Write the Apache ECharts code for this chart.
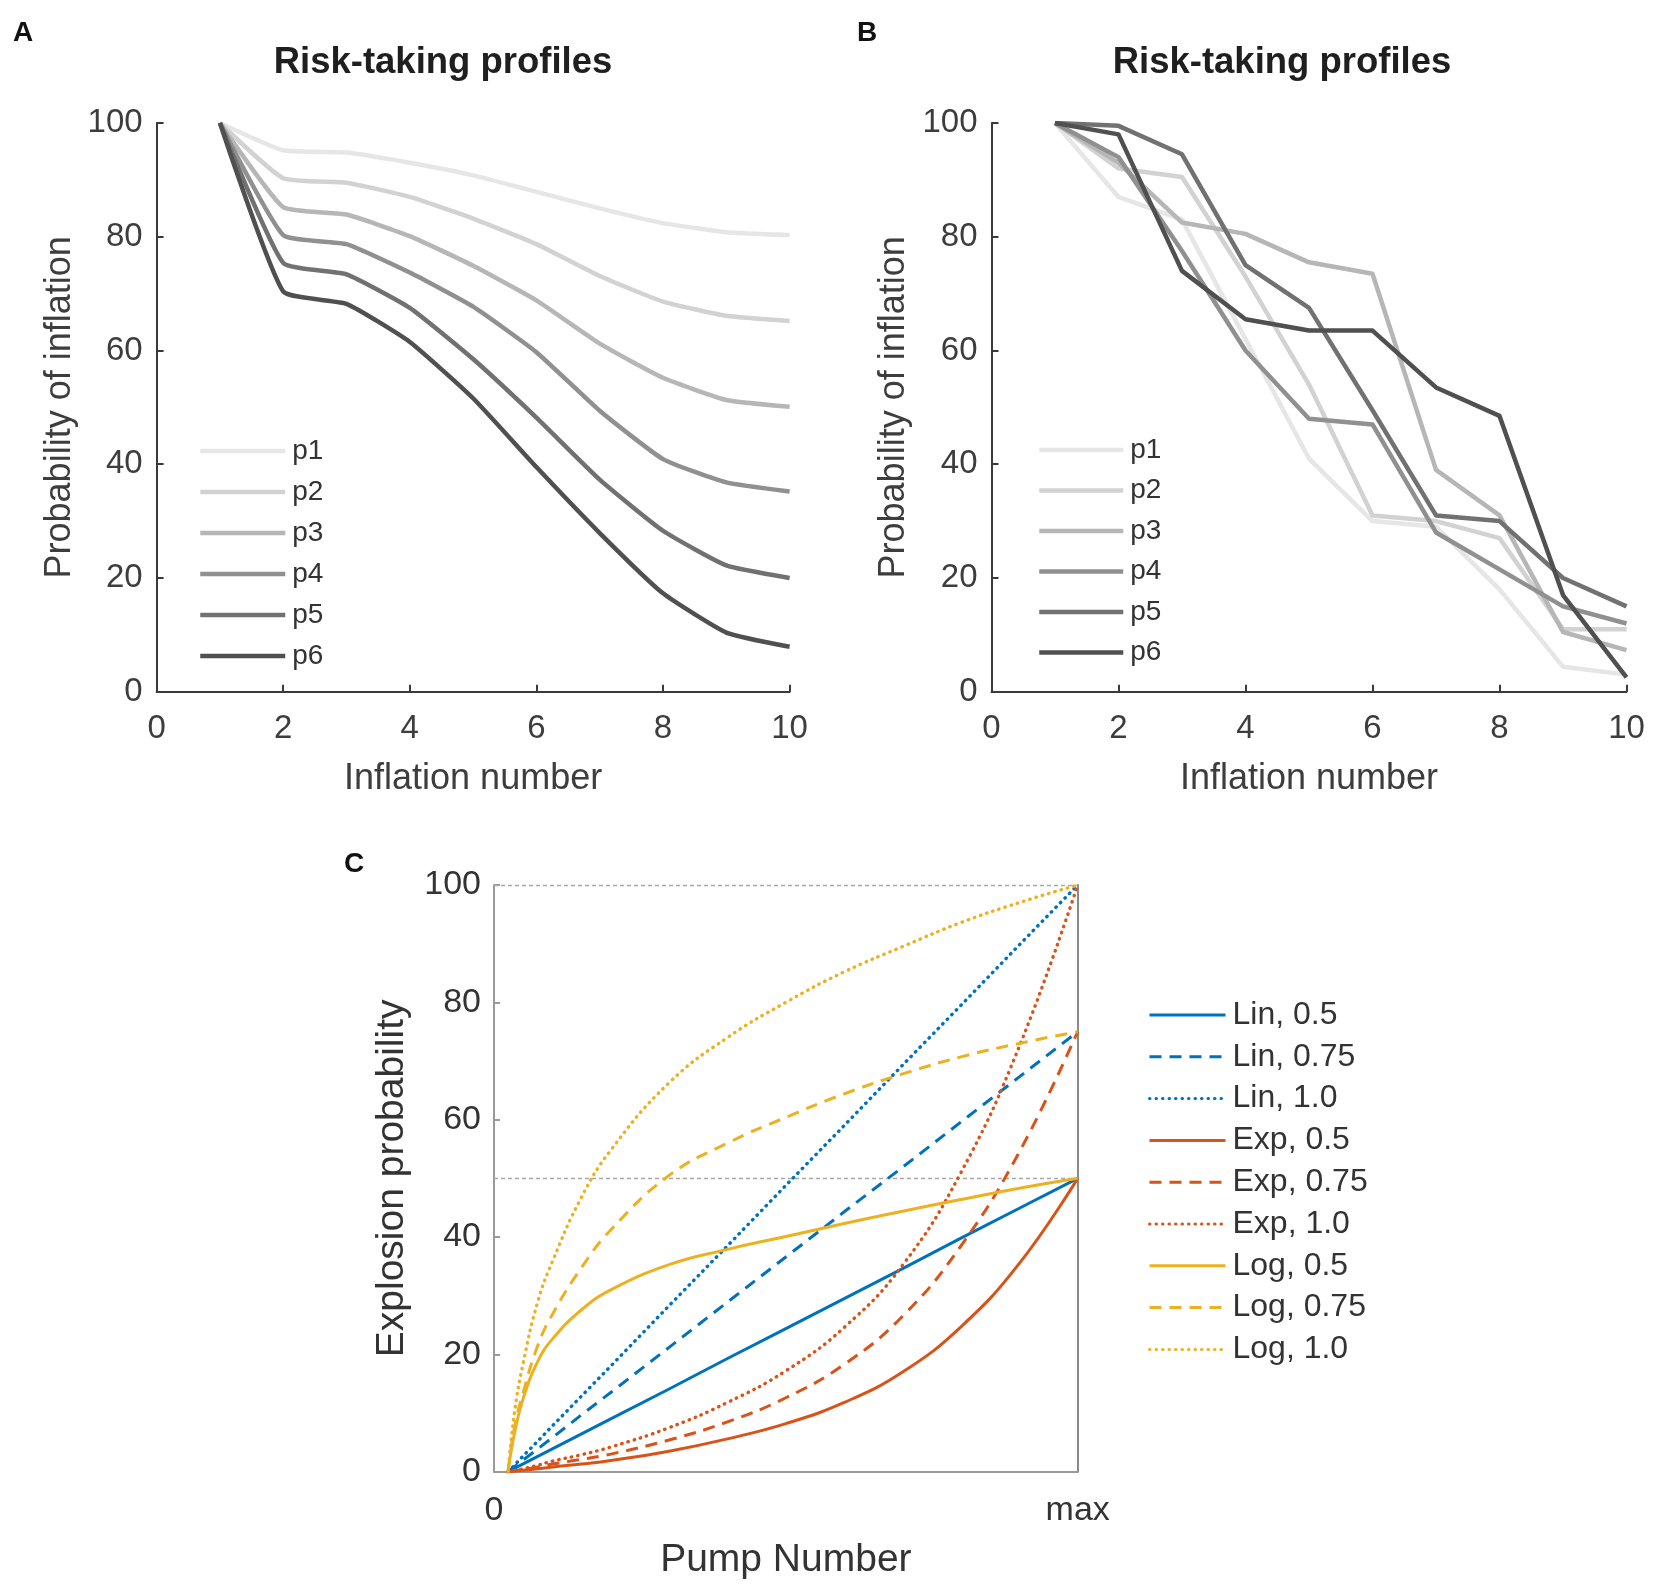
<!DOCTYPE html>
<html><head><meta charset="utf-8">
<script src="https://cdn.jsdelivr.net/npm/echarts@6/dist/echarts.min.js"></script>
<style>html,body{margin:0;padding:0;background:#fff}#c{width:1654px;height:1587px}</style>
</head><body><div id="c"></div>
<script>
// ---------- data ----------
const inflationNumbers = [1, 2, 3, 4, 5, 6, 7, 8, 9, 10];
const profileNames = ['p1', 'p2', 'p3', 'p4', 'p5', 'p6'];

// Panel A: smooth risk-taking profiles
const panelA_p1 = [100, 95.2, 94.8, 93, 90.8, 87.9, 85, 82.4, 80.8, 80.3];
const panelA_p2 = [100, 90.3, 89.5, 87, 83.2, 78.7, 73.1, 68.6, 66.1, 65.2];
const panelA_p3 = [100, 85.2, 83.9, 80.1, 74.9, 68.8, 61.2, 55.2, 51.3, 50.1];
const panelA_p4 = [100, 80.3, 78.7, 73.7, 67.7, 59.7, 49.4, 40.9, 36.8, 35.2];
const panelA_p5 = [100, 75.4, 73.4, 67.5, 58.5, 48.2, 37.3, 28.3, 22.2, 20];
const panelA_p6 = [100, 70.4, 68.2, 61.5, 51.6, 39.5, 27.9, 17.3, 10.4, 7.9];

// Panel B: irregular risk-taking profiles
const panelB_p1 = [100, 87, 83, 62, 41, 30, 29, 18, 4.4, 3];
const panelB_p2 = [100, 92, 90.5, 73, 54, 31, 30, 27, 11, 11];
const panelB_p3 = [100, 93, 82.5, 80.5, 75.5, 73.5, 39, 31, 10.5, 7.3];
const panelB_p4 = [100, 94, 77.5, 60, 48, 47, 28, 21.5, 15, 12];
const panelB_p5 = [100, 99.5, 94.5, 75, 67.5, 49.5, 31, 30, 20, 15];
const panelB_p6 = [100, 98, 74, 65.5, 63.5, 63.5, 53.5, 48.5, 17, 2.5];

// Panel C: explosion probability vs pump number (x as fraction of max)
const pumpFraction = [0.024, 0.035, 0.05, 0.075, 0.1, 0.15, 0.2, 0.3, 0.4, 0.5, 0.6, 0.7, 0.8, 0.9, 1.0];
const lin05 = [0, 0.56, 1.33, 2.61, 3.89, 6.45, 9.0, 14.1, 19.3, 24.4, 29.5, 34.6, 39.8, 44.9, 50];
const lin075 = [0, 0.85, 2.0, 3.9, 5.8, 9.7, 13.5, 21.2, 28.9, 36.6, 44.3, 51.9, 59.6, 67.3, 75];
const lin10 = [0, 1.1, 2.7, 5.2, 7.8, 12.9, 18, 28.3, 38.5, 48.8, 59, 69.3, 79.5, 89.8, 100];
const exp05 = [0, 0.1, 0.25, 0.5, 0.8, 1.3, 1.9, 3.5, 5.6, 8.2, 11.8, 17, 24.7, 35.5, 50];
const exp075 = [0, 0.15, 0.4, 0.8, 1.3, 2.1, 3.0, 5.4, 8.5, 12.6, 18.3, 26.5, 38.5, 54.5, 75];
const exp10 = [0, 0.2, 0.5, 1.1, 1.8, 2.9, 4.2, 7.5, 11.8, 17.2, 24.6, 35.2, 51, 72.5, 100];
const log05 = [0, 6.5, 12.5, 18.8, 22.6, 27.6, 31, 35.3, 37.9, 40.1, 42.3, 44.4, 46.4, 48.3, 50];
const log075 = [0, 7.5, 13.5, 21.5, 26.8, 34.8, 41.2, 50.5, 56, 60.4, 64.4, 67.8, 70.7, 73, 75];
const log10 = [0, 10, 18.5, 29, 35.8, 46.8, 54.8, 66.3, 74, 80, 85.2, 89.5, 93.6, 97, 100];
const curveNamesC = ['Lin, 0.5', 'Lin, 0.75', 'Lin, 1.0', 'Exp, 0.5', 'Exp, 0.75', 'Exp, 1.0', 'Log, 0.5', 'Log, 0.75', 'Log, 1.0'];
const pumpTickLabels = ['0', 'max'];
const referenceLinesC = [50, 100];
const panelTitles = ['Risk-taking profiles', 'Risk-taking profiles'];
const panelLetters = ['A', 'B', 'C'];

// ---------- styling ----------
const font = '"Liberation Sans", Arial, Helvetica, sans-serif';
const grayShades = ['#e6e6e6', '#d2d2d2', '#b6b6b6', '#909090', '#717171', '#505050'];
const blue = '#0072BD', red = '#D95319', yellow = '#EDB120';
const dashed = [12, 8], dotted = [0.5, 6];
const axisColAB = '#3a3a3a', textColAB = '#3d3d3d';

function pairs(xs, ys) { return xs.map((x, i) => [x, ys[i]]); }

function xAxisAB(g) {
  return {
    gridIndex: g, type: 'value', min: 0, max: 10, interval: 2,
    name: 'Inflation number', nameLocation: 'middle', nameGap: 69,
    nameTextStyle: { fontSize: 36, color: textColAB, fontFamily: font },
    axisLine: { show: true, onZero: false, lineStyle: { color: axisColAB, width: 2 } },
    axisTick: { show: true, inside: true, length: 7, lineStyle: { color: axisColAB, width: 2 } },
    axisLabel: { fontSize: 33, color: textColAB, margin: 21, fontFamily: font },
    splitLine: { show: false }
  };
}
function yAxisAB(g) {
  return {
    gridIndex: g, type: 'value', min: 0, max: 100, interval: 20,
    name: 'Probability of inflation', nameLocation: 'middle', nameGap: 79,
    nameTextStyle: { fontSize: 36, color: textColAB, fontFamily: font },
    axisLine: { show: true, onZero: false, lineStyle: { color: axisColAB, width: 2 } },
    axisTick: { show: true, inside: true, length: 7, lineStyle: { color: axisColAB, width: 2 } },
    axisLabel: { fontSize: 33, color: textColAB, margin: 14, fontFamily: font },
    splitLine: { show: false }
  };
}

const dataA = [panelA_p1, panelA_p2, panelA_p3, panelA_p4, panelA_p5, panelA_p6];
const dataB = [panelB_p1, panelB_p2, panelB_p3, panelB_p4, panelB_p5, panelB_p6];

const series = [];
dataA.forEach((d, i) => series.push({
  name: profileNames[i], type: 'line', xAxisIndex: 0, yAxisIndex: 0,
  data: pairs(inflationNumbers, d), symbol: 'none', smooth: 0.15,
  lineStyle: { color: grayShades[i], width: 4.5, join: 'round' }, itemStyle: { color: grayShades[i] }, z: 2 + i
}));
dataB.forEach((d, i) => series.push({
  name: profileNames[i], type: 'line', xAxisIndex: 1, yAxisIndex: 1,
  data: pairs(inflationNumbers, d), symbol: 'none', smooth: false,
  lineStyle: { color: grayShades[i], width: 4.5, join: 'round' }, itemStyle: { color: grayShades[i] }, z: 2 + i
}));

const dataC = [lin05, lin075, lin10, exp05, exp075, exp10, log05, log075, log10];
const colorsC = [blue, blue, blue, red, red, red, yellow, yellow, yellow];
const typesC = ['solid', dashed, dotted, 'solid', dashed, dotted, 'solid', dashed, dotted];
dataC.forEach((d, i) => {
  const s = {
    name: curveNamesC[i], type: 'line', xAxisIndex: 2, yAxisIndex: 2,
    data: pairs(pumpFraction, d), symbol: 'none', smooth: i < 3 ? false : 0.45,
    lineStyle: { color: colorsC[i], width: typesC[i] === dotted ? 3.4 : 3, type: typesC[i],
      cap: typesC[i] === dotted ? 'round' : 'butt', join: 'round' },
    itemStyle: { color: colorsC[i] }, z: 5
  };
  if (i === 0) {
    s.markLine = {
      silent: true, symbol: 'none', animation: false,
      label: { show: false },
      lineStyle: { color: '#a8a8a8', type: [4, 3], width: 1.3 },
      data: referenceLinesC.map(v => ({ yAxis: v })), z: 1
    };
  }
  series.push(s);
});

const option = {
  backgroundColor: '#ffffff',
  animation: false,
  title: [
    { text: panelTitles[0], left: 443, top: 44, textAlign: 'center', padding: 0,
      textStyle: { fontSize: 36.5, fontWeight: 'bold', color: '#1f1f1f', fontFamily: font } },
    { text: panelTitles[1], left: 1282, top: 44, textAlign: 'center', padding: 0,
      textStyle: { fontSize: 36.5, fontWeight: 'bold', color: '#1f1f1f', fontFamily: font } },
    { text: panelLetters[0], left: 13, top: 19, padding: 0,
      textStyle: { fontSize: 28, fontWeight: 'bold', color: '#111', fontFamily: font } },
    { text: panelLetters[1], left: 857, top: 19, padding: 0,
      textStyle: { fontSize: 28, fontWeight: 'bold', color: '#111', fontFamily: font } },
    { text: panelLetters[2], left: 344, top: 850, padding: 0,
      textStyle: { fontSize: 28, fontWeight: 'bold', color: '#111', fontFamily: font } }
  ],
  grid: [
    { left: 156.6, top: 123, width: 633, height: 568.7, containLabel: false },
    { left: 991.5, top: 123, width: 635, height: 568.7, containLabel: false },
    { left: 494, top: 885, width: 583.7, height: 586.7, containLabel: false }
  ],
  xAxis: [
    xAxisAB(0), xAxisAB(1),
    {
      gridIndex: 2, type: 'value', min: 0, max: 1, interval: 1,
      name: 'Pump Number', nameLocation: 'middle', nameGap: 69,
      nameTextStyle: { fontSize: 39, color: '#333', fontFamily: font },
      axisLine: { show: true, onZero: false, lineStyle: { color: '#9a9a9a', width: 2 } },
      axisTick: { show: false },
      axisLabel: { fontSize: 34, color: '#333', margin: 22, fontFamily: font,
        formatter: v => pumpTickLabels[Math.round(v)] },
      splitLine: { show: false }
    }
  ],
  yAxis: [
    yAxisAB(0), yAxisAB(1),
    {
      gridIndex: 2, type: 'value', min: 0, max: 100, interval: 20,
      name: 'Explosion probability', nameLocation: 'middle', nameGap: 82,
      nameTextStyle: { fontSize: 39, color: '#333', fontFamily: font },
      axisLine: { show: true, onZero: false, lineStyle: { color: '#9a9a9a', width: 2 } },
      axisTick: { show: true, inside: true, length: 6, lineStyle: { color: '#9a9a9a', width: 2 } },
      axisLabel: { fontSize: 34, color: '#333', margin: 13, fontFamily: font },
      splitLine: { show: false }
    },
    {
      gridIndex: 2, type: 'value', min: 0, max: 100, interval: 20, position: 'right',
      axisLine: { show: true, onZero: false, lineStyle: { color: '#8a8a8a', width: 2 } },
      axisTick: { show: false }, axisLabel: { show: false }, splitLine: { show: false }
    }
  ],
  legend: [
    { data: profileNames, left: 198, top: 437, orient: 'vertical', padding: 0,
      itemWidth: 85, itemHeight: 28, itemGap: 13, selectedMode: false,
      itemStyle: { opacity: 0 }, lineStyle: { width: 4.5 },
      textStyle: { fontSize: 28, color: '#333', fontFamily: font, padding: [0, 0, 0, 2] } },
    { data: profileNames, left: 1037, top: 436, orient: 'vertical', padding: 0,
      itemWidth: 84, itemHeight: 28, itemGap: 12.5, selectedMode: false,
      itemStyle: { opacity: 0 }, lineStyle: { width: 4.5 },
      textStyle: { fontSize: 28, color: '#333', fontFamily: font, padding: [0, 0, 0, 2] } },
    { data: curveNamesC, left: 1148, top: 999, orient: 'vertical', padding: 0,
      itemWidth: 76, itemHeight: 32, itemGap: 9.8, selectedMode: false,
      itemStyle: { opacity: 0 }, lineStyle: { width: 3 },
      textStyle: { fontSize: 32, color: '#333', fontFamily: font, padding: [0, 0, 0, 2] } }
  ],
  series: series
};

const chart = echarts.init(document.getElementById('c'), null, { renderer: 'canvas' });
chart.setOption(option);
</script>
</body></html>
